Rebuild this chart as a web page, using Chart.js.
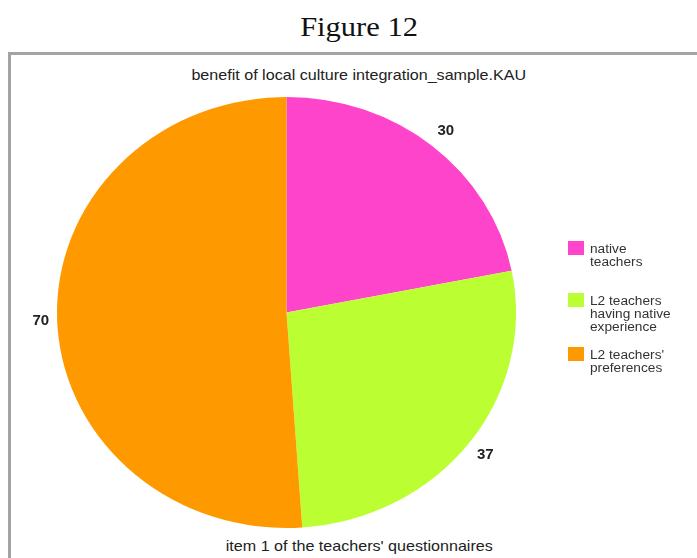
<!DOCTYPE html>
<html>
<head>
<meta charset="utf-8">
<script src="https://cdn.jsdelivr.net/npm/chart.js@4/dist/chart.umd.min.js"></script>
<style>
  html, body { margin: 0; padding: 0; background: #fff; overflow: hidden; }
  body { width: 697px; height: 558px; position: relative; font-family: "Liberation Sans", Arial, sans-serif; }
  .center-row { position: absolute; left: 0; width: 718px; text-align: center; white-space: nowrap; }
  .center-row span { display: inline-block; }
  #fig-title { top: 11px; font-family: "Liberation Serif", "Times New Roman", serif; font-size: 28px; line-height: 32px; color: #111; }
  #fig-title span { transform: scaleX(1.09); }
  #frame { position: absolute; left: 8px; top: 52px; width: 720px; height: 540px;
    border: 3px solid #a3a3a3; box-sizing: border-box; }
  .caption { font-size: 14.5px; line-height: 16px; color: #222; }
  .caption span { transform: scaleX(1.11); }
  #cap-top { top: 67px; }
  #cap-bottom { top: 538px; }
  #wrap { position: absolute; left: 0; top: 0; width: 697px; height: 558px; }
  #legend { position: absolute; left: 568px; top: 0; font-size: 12px; color: #333; line-height: 13px; }
  .item { position: absolute; left: 0; white-space: nowrap; }
  .sw { position: absolute; left: 0; top: 0; width: 16px; height: 14px; }
  .txt { position: absolute; left: 22px; top: 2px; transform: scaleX(1.14); transform-origin: left top; }
</style>
</head>
<body>
<div class="center-row" id="fig-title"><span>Figure 12</span></div>
<div id="frame"></div>
<div class="center-row caption" id="cap-top"><span>benefit of local culture integration_sample.KAU</span></div>
<div class="center-row caption" id="cap-bottom"><span>item 1 of the teachers' questionnaires</span></div>
<div id="wrap"><canvas id="c" width="697" height="558"></canvas></div>
<div id="legend"></div>
<script>
// Responses to item 1 of the teachers' questionnaire
const categories = ["native teachers", "L2 teachers having native experience", "L2 teachers' preferences"];
const legendLines = [["native", "teachers"], ["L2 teachers", "having native", "experience"], ["L2 teachers'", "preferences"]];
const counts = [30, 37, 70];
const colors = ["#ff44cc", "#bbff33", "#ff9900"];

// legend built from the same categories
const legendTops = [241, 293, 347];
const legend = document.getElementById('legend');
categories.forEach((name, i) => {
  const item = document.createElement('div');
  item.className = 'item';
  item.style.top = legendTops[i] + 'px';
  item.innerHTML = '<div class="sw" style="background:' + colors[i] + '"></div>' +
    '<div class="txt">' + legendLines[i].join('<br>') + '</div>';
  legend.appendChild(item);
});

// the pie is drawn slightly wider than tall
const STRETCH_X = 1.065;

const ovalPie = {
  id: 'ovalPie',
  beforeDatasetsDraw(chart) {
    const arc = chart.getDatasetMeta(0).data[0];
    const ctx = chart.ctx;
    ctx.save();
    ctx.translate(arc.x, arc.y);
    ctx.scale(STRETCH_X, 1);
    ctx.translate(-arc.x, -arc.y);
  },
  afterDatasetsDraw(chart) {
    const ctx = chart.ctx;
    ctx.restore();
    // value labels just outside each slice, at its middle angle
    const meta = chart.getDatasetMeta(0);
    ctx.save();
    ctx.font = 'bold 15px "Liberation Sans", Arial, sans-serif';
    ctx.fillStyle = '#222';
    ctx.textAlign = 'center';
    ctx.textBaseline = 'middle';
    const gap = 10, halfH = 9;
    meta.data.forEach((arc, i) => {
      const mid = (arc.startAngle + arc.endAngle) / 2;
      const c = Math.cos(mid), s = Math.sin(mid);
      const text = String(chart.data.datasets[0].data[i]);
      const halfW = ctx.measureText(text).width / 2;
      const ex = arc.x + c * arc.outerRadius * STRETCH_X;
      const ey = arc.y + s * arc.outerRadius;
      const x = ex + c * gap + c * halfW + 2;
      const y = ey + s * gap + s * halfH;
      ctx.fillText(text, x, y);
    });
    ctx.restore();
  }
};

new Chart(document.getElementById('c'), {
  type: 'pie',
  data: {
    labels: categories,
    datasets: [{ data: counts, backgroundColor: colors, borderWidth: 0 }]
  },
  options: {
    responsive: false,
    animation: false,
    layout: { padding: { left: 71, right: 195, top: 97, bottom: 30 } },
    plugins: { legend: { display: false }, tooltip: { enabled: false }, title: { display: false } }
  },
  plugins: [ovalPie]
});
</script>
</body>
</html>
